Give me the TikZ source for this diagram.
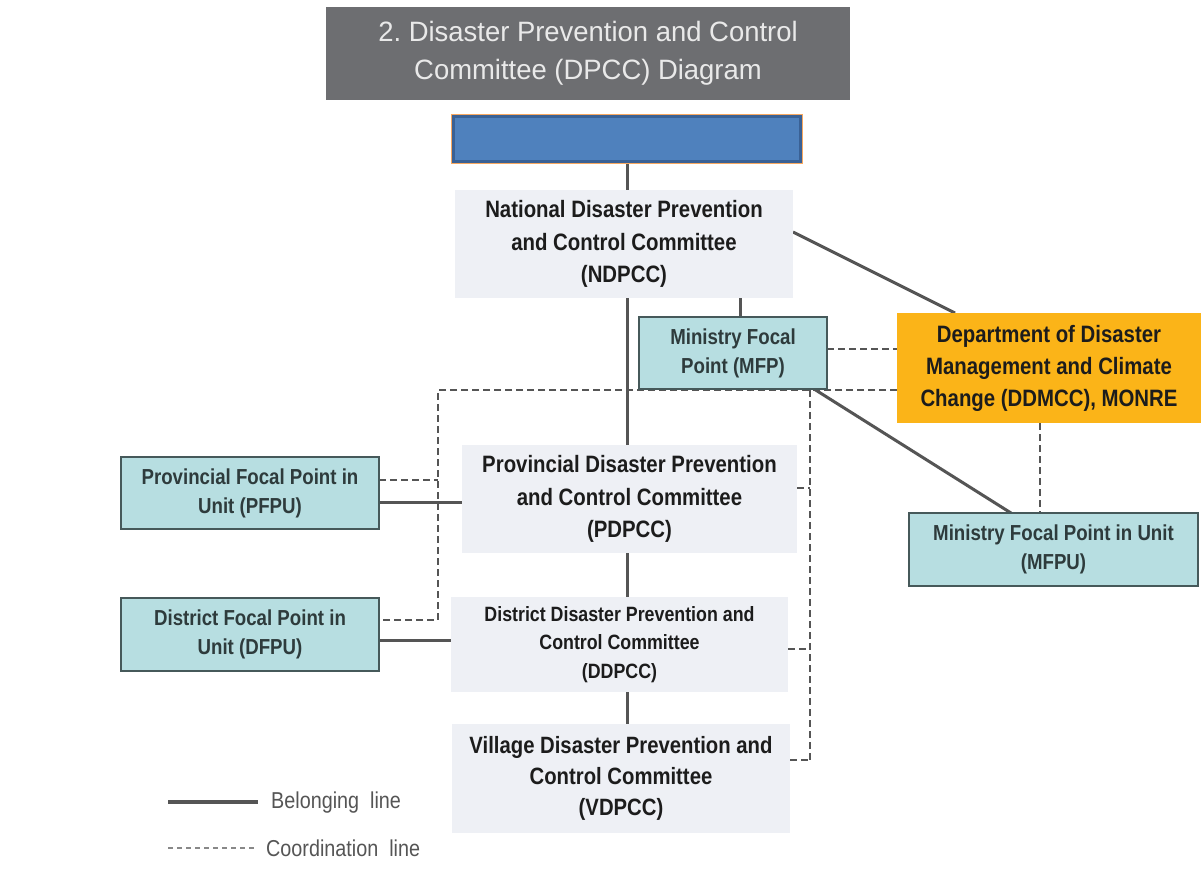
\documentclass[tikz,border=0pt]{standalone}
\usepackage{fontspec}
\setmainfont{Liberation Sans}
\newfontfamily\cond{Liberation Sans}[FakeStretch=0.86]
\newfontfamily\titlefont{Liberation Sans}[FakeStretch=0.98]
\usetikzlibrary{backgrounds}
\definecolor{titlebg}{HTML}{6D6E71}
\definecolor{titlefg}{HTML}{E9E9E9}
\definecolor{combg}{HTML}{EEF0F5}
\definecolor{tealbg}{HTML}{B7DEE1}
\definecolor{tealbd}{HTML}{46595A}
\definecolor{orangebg}{HTML}{FBB418}
\definecolor{bluebg}{HTML}{4F81BD}
\definecolor{bluebd}{HTML}{3A6195}
\definecolor{glow}{HTML}{F7A860}
\definecolor{linec}{HTML}{555555}
\definecolor{txt}{HTML}{1C1C1C}
\definecolor{tealtxt}{HTML}{2E3B3C}
\definecolor{legtxt}{HTML}{555555}
\tikzset{
  box/.style={rectangle, inner sep=0pt, outer sep=0pt, align=center},
  combox/.style={box, fill=combg, text=txt, font=\cond\bfseries\fontsize{23.7}{32.5}\selectfont},
  tealbox/.style={box, fill=tealbg, draw=tealbd, line width=2.5pt, text=tealtxt, font=\cond\bfseries\fontsize{21.7}{29}\selectfont},
  belong/.style={draw=linec, line width=3pt},
  coord/.style={draw=linec, line width=2.4pt, dash pattern=on 7pt off 4pt},
}
\begin{document}
\frenchspacing
\begin{tikzpicture}[x=1pt, y=-1pt]
\useasboundingbox (0,0) rectangle (1201,882);

% title
\node[box, fill=titlebg, text=titlefg, minimum width=524pt, minimum height=93pt,
  font=\titlefont\fontsize{28}{38}\selectfont] (title) at (588,53.5)
  {2. Disaster Prevention and Control\\Committee (DPCC) Diagram};

% blue box
\node[box, fill=bluebg, draw=bluebd, line width=3pt,
  preaction={draw=glow, line width=5.5pt},
  minimum width=347pt, minimum height=45pt] (blue) at (627,139) {};

% committees
\node[combox, minimum width=338pt, minimum height=108pt] (ndpcc) at (624,244)
  {National Disaster Prevention\\and Control Committee\\(NDPCC)};
\node[combox, minimum width=335pt, minimum height=108pt] (pdpcc) at (629.5,499)
  {Provincial Disaster Prevention\\and Control Committee\\(PDPCC)};
\node[combox, minimum width=337pt, minimum height=95pt,
  font=\cond\bfseries\fontsize{20.7}{28.5}\selectfont] (ddpcc) at (619.5,644.5)
  {District Disaster Prevention and\\Control Committee\\(DDPCC)};
\node[combox, minimum width=338pt, minimum height=109pt,
  font=\cond\bfseries\fontsize{23.6}{31}\selectfont] (vdpcc) at (621,778.5)
  {Village Disaster Prevention and\\Control Committee\\(VDPCC)};

% focal points
\node[tealbox, minimum width=188pt, minimum height=72pt] (mfp) at (733,353)
  {Ministry Focal\\Point (MFP)};
\node[tealbox, minimum width=289pt, minimum height=73pt] (mfpu) at (1053.5,549.5)
  {Ministry Focal Point in Unit\\(MFPU)};
\node[tealbox, minimum width=258pt, minimum height=72pt] (pfpu) at (250,493)
  {Provincial Focal Point in\\Unit (PFPU)};
\node[tealbox, minimum width=258pt, minimum height=73pt] (dfpu) at (250,634.5)
  {District Focal Point in\\Unit (DFPU)};

% DDMCC
\node[box, fill=orangebg, text=txt, minimum width=304pt, minimum height=110pt,
  font=\cond\bfseries\fontsize{23.7}{32}\selectfont] (ddmcc) at (1049,368)
  {Department of Disaster\\Management and Climate\\Change (DDMCC), MONRE};

% helper coordinates
\coordinate (lt) at (438,390);
\coordinate (lb) at (438,620);
\coordinate (rt) at (810,390);
\coordinate (rb) at (810,760);

\begin{pgfonlayer}{background}
\fill[white] (0,0) rectangle (1201,882);
% belonging lines
\draw[belong] (blue.south) -- (blue.south |- ndpcc.north);
\draw[belong] (ndpcc.south -| blue.south) -- (pdpcc.north -| blue.south);
\draw[belong] ([xshift=7pt]mfp.north) -- ([xshift=7pt]mfp.north |- ndpcc.south);
\draw[belong] ([yshift=-42pt]ndpcc.north east) -- ([xshift=58pt]ddmcc.north west);
\draw[belong] ([xshift=-13pt]mfp.south east) -- ([xshift=102pt]mfpu.north west);
\draw[belong] ([yshift=-9pt]pfpu.east) -- ([yshift=-9pt]pfpu.east -| pdpcc.west);
\draw[belong] ([yshift=-5.5pt]dfpu.east) -- ([yshift=-5.5pt]dfpu.east -| ddpcc.west);
\draw[belong] (pdpcc.south -| blue.south) -- (ddpcc.north -| blue.south);
\draw[belong] (ddpcc.south -| blue.south) -- (vdpcc.north -| blue.south);

% coordination lines
\draw[coord] ([yshift=4pt]mfp.east) -- ([yshift=4pt]mfp.east -| ddmcc.west);
\draw[coord] (lt -| ddmcc.west) -- (lt) -- (lb) -- (lb -| dfpu.east);
\draw[coord] ([yshift=13pt]pfpu.east) -- ([yshift=13pt]pfpu.east -| lt);
\draw[coord] (rt) -- (rb);
\draw[coord] ([yshift=11pt]pdpcc.east) -- ([yshift=11pt]pdpcc.east -| rt);
\draw[coord] ([yshift=-4.5pt]ddpcc.east) -- ([yshift=-4.5pt]ddpcc.east -| rt);
\draw[coord] (rb -| vdpcc.east) -- (rb);
\draw[coord] ([xshift=-9pt]ddmcc.south) -- ([xshift=-9pt]ddmcc.south |- mfpu.north);
\end{pgfonlayer}

% legend
\coordinate (l1a) at (168,802);
\coordinate (l1b) at (258,802);
\coordinate (l2a) at (168,848);
\coordinate (l2b) at (256,848);
\draw[draw=linec, line width=4pt] (l1a) -- (l1b);
\draw[draw=linec!70, line width=1.8pt, dash pattern=on 5pt off 4pt] (l2a) -- (l2b);
\node[anchor=west, inner sep=0pt, text=legtxt, font=\cond\fontsize{23}{26}\selectfont] (leg1) at (271,803) {Belonging\ \ line};
\node[anchor=west, inner sep=0pt, text=legtxt, font=\cond\fontsize{23}{26}\selectfont] (leg2) at (266,848) {Coordination\ \ line};
\end{tikzpicture}
\end{document}
